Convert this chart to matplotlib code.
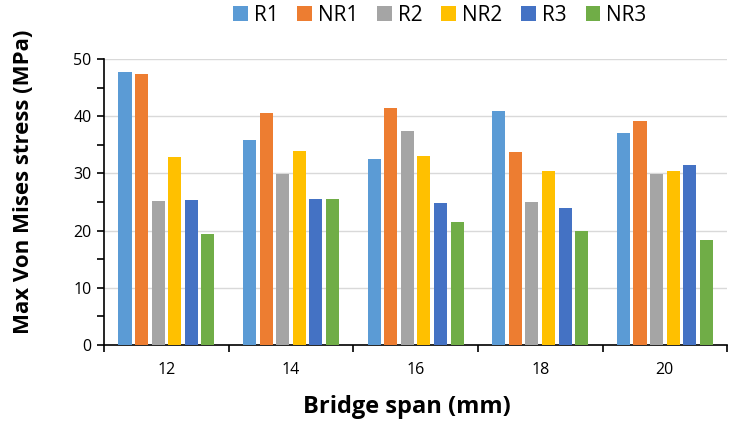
import numpy as np
import matplotlib
matplotlib.use('Agg')
import matplotlib.pyplot as plt
from matplotlib.ticker import MultipleLocator

spans = ['12', '14', '16', '18', '20']
series = ['R1', 'NR1', 'R2', 'NR2', 'R3', 'NR3']

r1 = [47.8, 35.9, 32.5, 41.0, 37.1]
nr1 = [47.4, 40.5, 41.4, 33.8, 39.1]
r2 = [25.1, 29.9, 37.4, 25.0, 29.9]
nr2 = [32.8, 34.0, 33.0, 30.4, 30.4]
r3 = [25.3, 25.6, 24.9, 23.9, 31.4]
nr3 = [19.4, 25.6, 21.5, 19.9, 18.4]

colors = ['#5B9BD5', '#ED7D31', '#A5A5A5', '#FFC000', '#4472C4', '#70AD47']

plt.rcParams['font.family'] = ['Open Sans', 'DejaVu Sans']

fig = plt.figure(figsize=(7.33, 4.29), dpi=100)
ax = fig.add_axes([0.142, 0.196, 0.85, 0.666])

x = np.arange(len(spans))
pitch = 0.133
width = 0.105
for i, (name, vals, c) in enumerate(zip(series, [r1, nr1, r2, nr2, r3, nr3], colors)):
    ax.bar(x + (i - 2.5) * pitch, vals, width, color=c, label=name, zorder=3)

ax.set_xlim(-0.5, len(spans) - 0.5)
ax.set_ylim(0, 50)
ax.yaxis.set_major_locator(MultipleLocator(10))
ax.yaxis.set_minor_locator(MultipleLocator(5))
ax.grid(axis='y', color='#d9d9d9', lw=1, zorder=0)

ax.set_xticks(x)
ax.set_xticklabels(spans)
ax.set_xticks(np.arange(-0.5, len(spans)), minor=True)
ax.tick_params(axis='x', which='major', length=0, pad=12, labelsize=11.5)
ax.tick_params(axis='x', which='minor', length=5, width=1.2, direction='out')
ax.tick_params(axis='y', which='both', length=5, width=1.2, direction='out', labelsize=11.5, pad=4)

for s in ['top', 'right']:
    ax.spines[s].set_visible(False)
ax.spines['left'].set_linewidth(1.2)
ax.spines['bottom'].set_linewidth(1.2)

ax.set_xlabel('Bridge span (mm)', fontsize=17, fontweight='bold')
ax.xaxis.set_label_coords(0.486, -0.175)
ax.set_ylabel('Max Von Mises stress (MPa)', fontsize=16, fontweight='bold')
ax.yaxis.set_label_coords(-0.113, 0.57)

fig.legend(loc='center', bbox_to_anchor=(0.6, 0.965), ncol=6, frameon=False,
           fontsize=15, handlelength=0.7, handleheight=0.7, handletextpad=0.3,
           columnspacing=0.9)

fig.savefig('out.png', dpi=100)
